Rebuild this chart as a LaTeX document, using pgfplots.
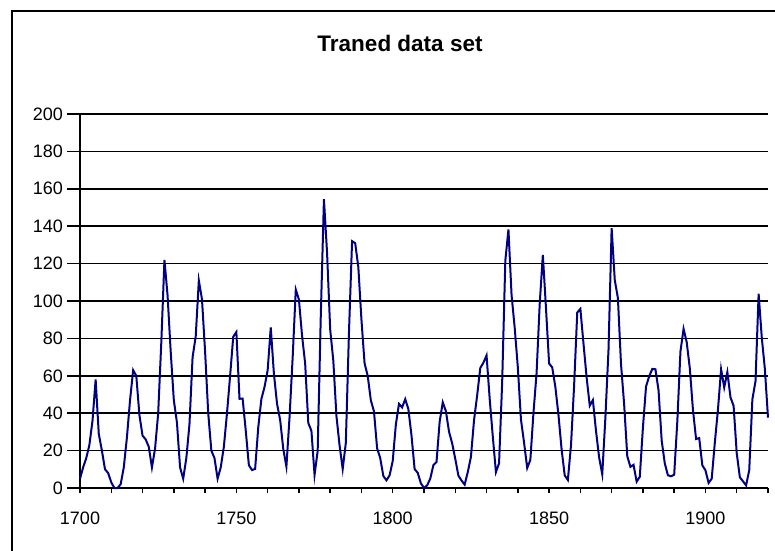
\documentclass[border=0pt]{standalone}
\usepackage{fontspec}
\setmainfont{Liberation Sans}
\usepackage{pgfplots}
\pgfplotsset{compat=1.18}
\definecolor{navyline}{RGB}{0,0,128}
\begin{document}
\begin{tikzpicture}[x=1pt,y=1pt]
\useasboundingbox (0,0) rectangle (775,550);
\draw[line width=2pt] (12,-5) -- (12,539) -- (780,539);
\node[anchor=base,font=\fontsize{22.5}{26}\selectfont\bfseries] at (400,498) {Traned data set};
\begin{axis}[
  at={(80pt,62pt)}, anchor=south west,
  scale only axis, width=688pt, height=374pt,
  xmin=1700, xmax=1920, ymin=0, ymax=200,
  axis x line=bottom, axis y line=left,
  axis line style={-, line width=1.5pt, black},
  xtick={1700,1750,1800,1850,1900},
  minor xtick={1710,1720,1730,1740,1760,1770,1780,1790,1810,1820,1830,1840,1860,1870,1880,1890,1910,1920},
  ytick={0,20,...,200},
  tick align=outside,
  major tick length=5pt, minor tick length=5pt,
  xtick style={line width=1.5pt, black},
  minor tick style={line width=1.5pt, black},
  ytick style={draw=none},
  ymajorgrids, major grid style={line width=1.5pt, black},
  tick label style={font=\fontsize{18}{20}\selectfont},
  /pgf/number format/assume math mode=true,
  /pgf/number format/1000 sep={},
  yticklabel style={anchor=east, inner sep=0pt, xshift=-12pt},
  xticklabel style={anchor=north, inner sep=0pt, yshift=-19pt},
  clip=false,
]
\pgfplotsinvokeforeach{0,20,...,200}{\draw[line width=1.5pt] (axis cs:1700,#1) -- (axis cs:1695.85,#1);}
\addplot[navyline, line width=2pt, mark=none] table[x=year,y=spots] {
year spots
1700 5
1701 11
1702 16
1703 23
1704 36
1705 58
1706 29
1707 20
1708 10
1709 8
1710 3
1711 0
1712 0
1713 2
1714 11
1715 27
1716 47
1717 63
1718 60
1719 39
1720 28
1721 26
1722 22
1723 11
1724 21
1725 40
1726 78
1727 122
1728 103
1729 73
1730 47
1731 35
1732 11
1733 5
1734 16
1735 34
1736 70
1737 81
1738 111
1739 101
1740 73
1741 40
1742 20
1743 16
1744 5
1745 11
1746 22
1747 40
1748 60
1749 80.9
1750 83.4
1751 47.7
1752 47.8
1753 30.7
1754 12.2
1755 9.6
1756 10.2
1757 32.4
1758 47.6
1759 54
1760 62.9
1761 85.9
1762 61.2
1763 45.1
1764 36.4
1765 20.9
1766 11.4
1767 37.8
1768 69.8
1769 106.1
1770 100.8
1771 81.6
1772 66.5
1773 34.8
1774 30.6
1775 7
1776 19.8
1777 92.5
1778 154.4
1779 125.9
1780 84.8
1781 68.1
1782 38.5
1783 22.8
1784 10.2
1785 24.1
1786 82.9
1787 132
1788 130.9
1789 118.1
1790 89.9
1791 66.6
1792 60
1793 46.9
1794 41
1795 21.3
1796 16
1797 6.4
1798 4.1
1799 6.8
1800 14.5
1801 34
1802 45
1803 43.1
1804 47.5
1805 42.2
1806 28.1
1807 10.1
1808 8.1
1809 2.5
1810 0
1811 1.4
1812 5
1813 12.2
1814 13.9
1815 35.4
1816 45.8
1817 41.1
1818 30.1
1819 23.9
1820 15.6
1821 6.6
1822 4
1823 1.8
1824 8.5
1825 16.6
1826 36.3
1827 49.6
1828 64.2
1829 67
1830 70.9
1831 47.8
1832 27.5
1833 8.5
1834 13.2
1835 56.9
1836 121.5
1837 138.3
1838 103.2
1839 85.7
1840 64.6
1841 36.7
1842 24.2
1843 10.7
1844 15
1845 40.1
1846 61.5
1847 98.5
1848 124.7
1849 96.3
1850 66.6
1851 64.5
1852 54.1
1853 39
1854 20.6
1855 6.7
1856 4.3
1857 22.7
1858 54.8
1859 93.8
1860 95.8
1861 77.2
1862 59.1
1863 44
1864 47
1865 30.5
1866 16.3
1867 7.3
1868 37.6
1869 74
1870 139
1871 111.2
1872 101.6
1873 66.2
1874 44.7
1875 17
1876 11.3
1877 12.4
1878 3.4
1879 6
1880 32.3
1881 54.3
1882 59.7
1883 63.7
1884 63.5
1885 52.2
1886 25.4
1887 13.1
1888 6.8
1889 6.3
1890 7.1
1891 35.6
1892 73
1893 85.1
1894 78
1895 64
1896 41.8
1897 26.2
1898 26.7
1899 12.1
1900 9.5
1901 2.7
1902 5
1903 24.4
1904 42
1905 63.5
1906 53.8
1907 62
1908 48.5
1909 43.9
1910 18.6
1911 5.7
1912 3.6
1913 1.4
1914 9.6
1915 47.4
1916 57.1
1917 103.9
1918 80.6
1919 63.6
1920 37.6
};
\end{axis}
\end{tikzpicture}
\end{document}
